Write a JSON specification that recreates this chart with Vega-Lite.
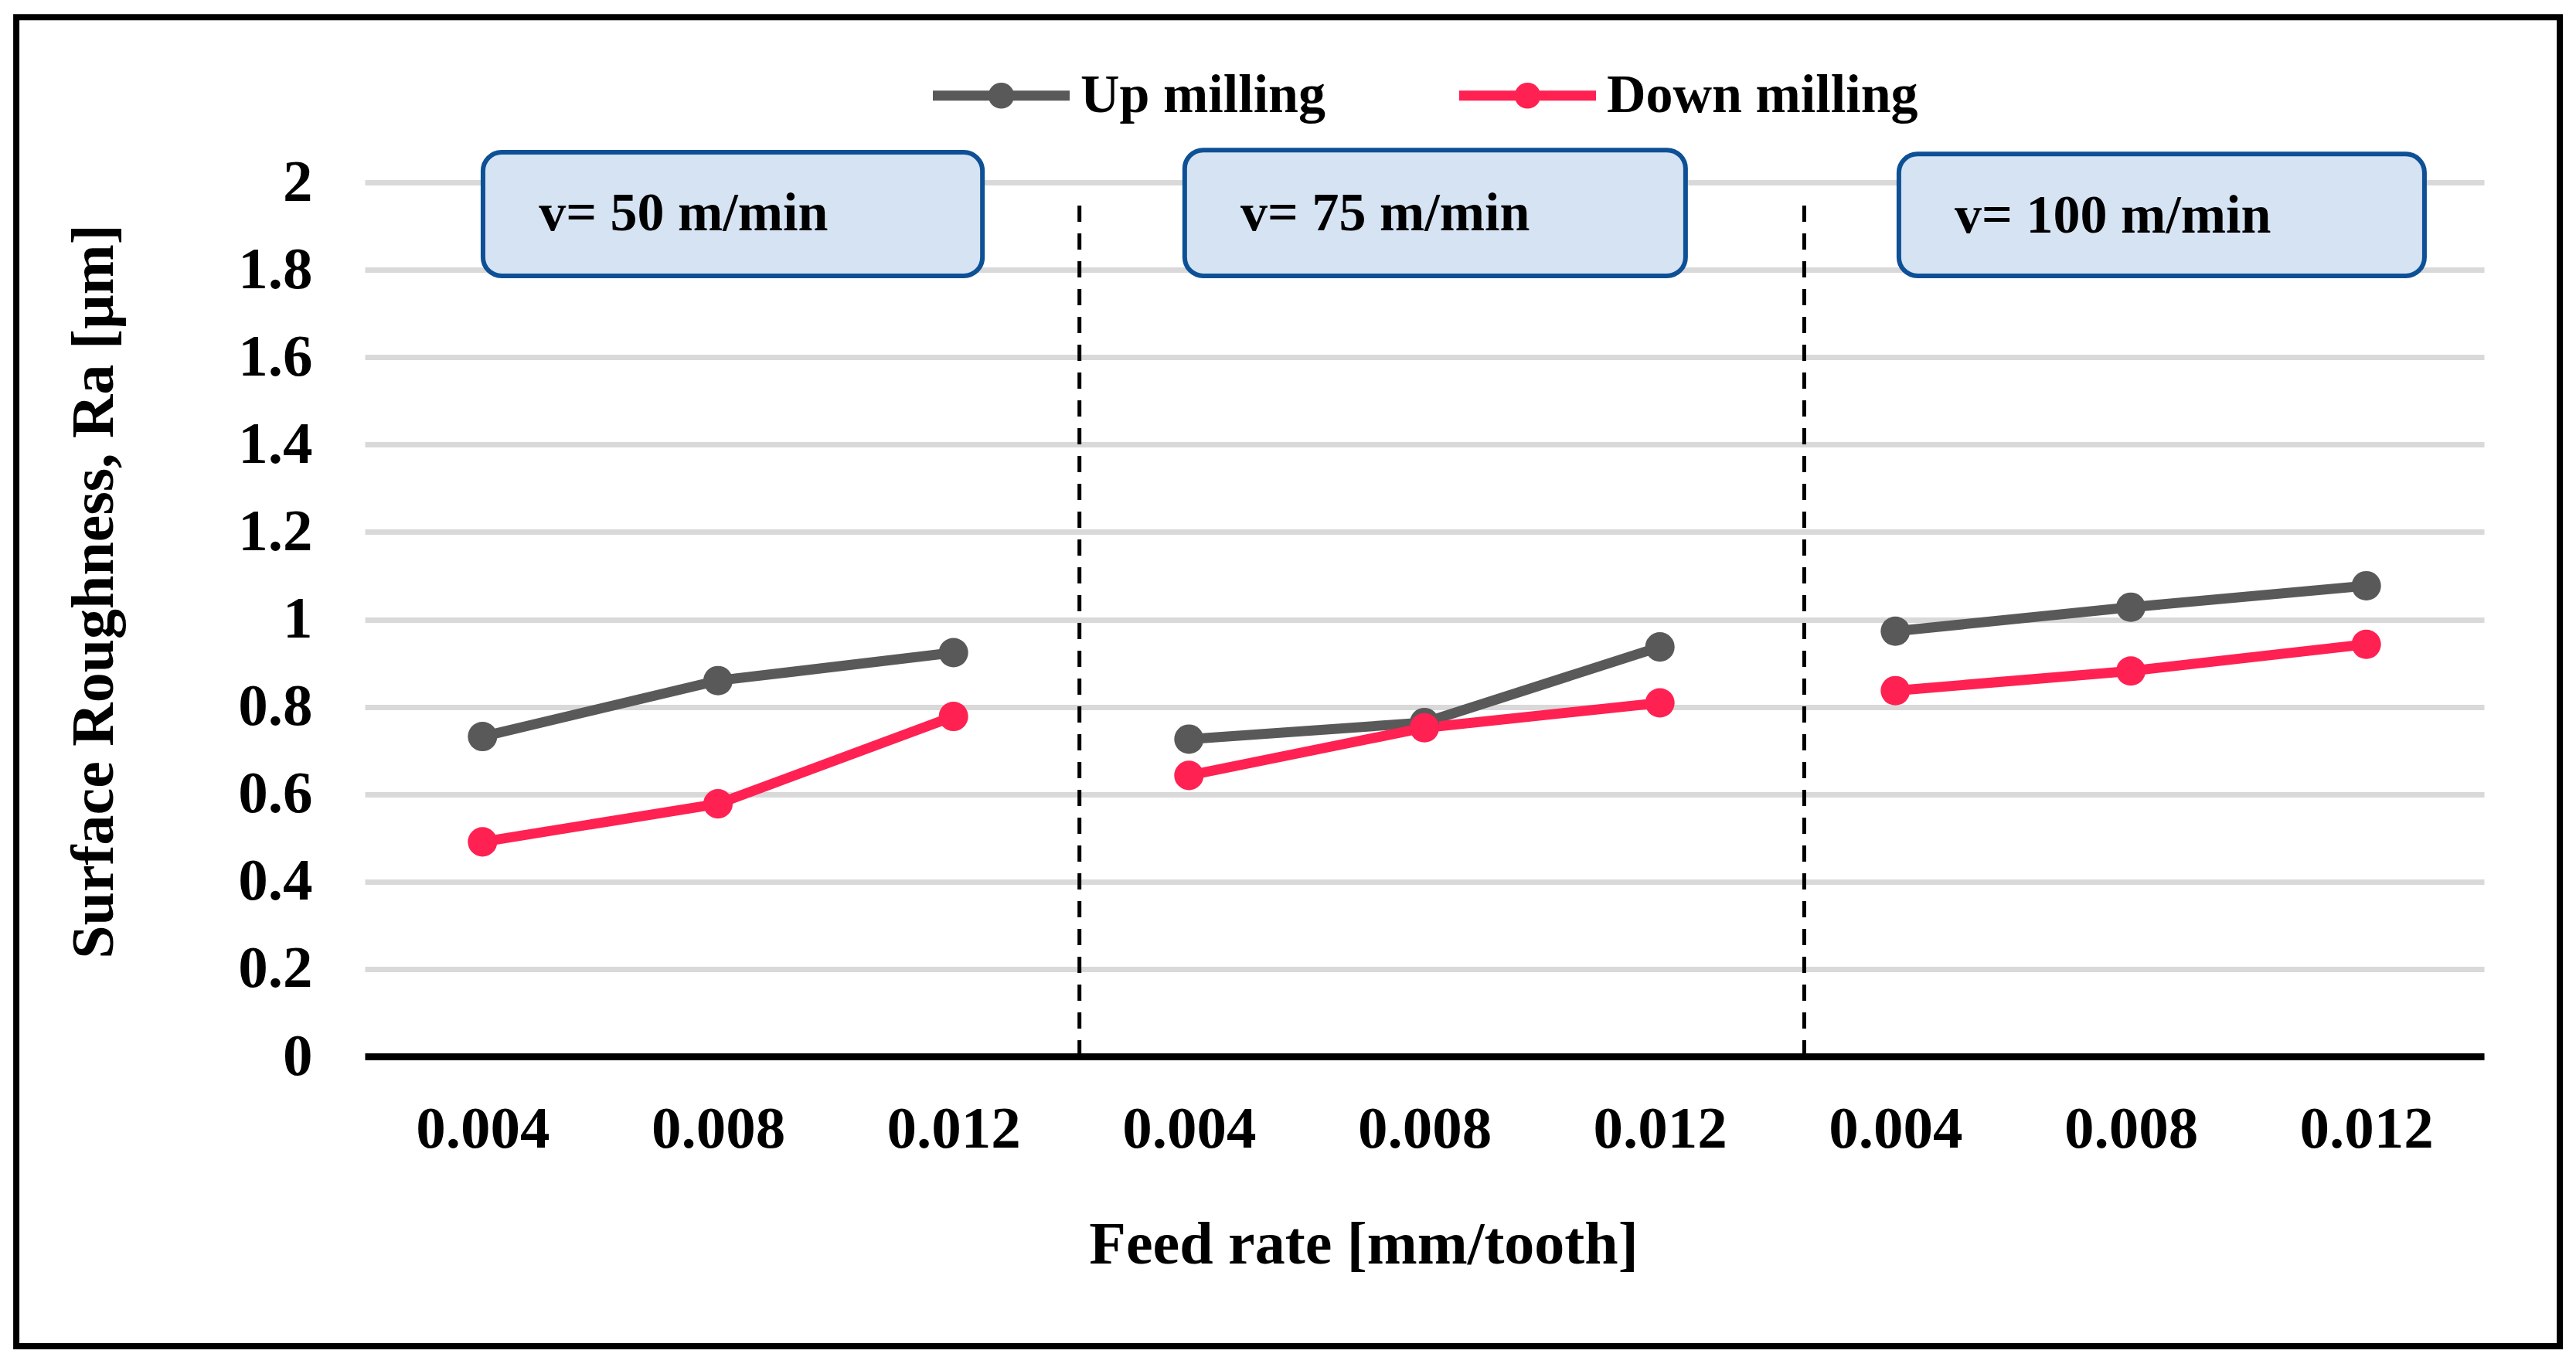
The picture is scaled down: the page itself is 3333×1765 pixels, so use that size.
{
  "$schema": "https://vega.github.io/schema/vega-lite/v6.json",
  "width": 2742,
  "height": 1131,
  "autosize": {"type": "none"},
  "padding": {"left": 472, "top": 236, "right": 119, "bottom": 398},
  "background": "white",
  "config": {
    "view": {"stroke": null},
    "font": "Liberation Serif",
    "axis": {"labelFont": "Liberation Serif", "titleFont": "Liberation Serif", "labelFontWeight": "bold", "titleFontWeight": "bold", "labelColor": "black", "titleColor": "black"},
    "legend": {"labelFont": "Liberation Serif", "labelFontWeight": "bold"}
  },
  "datasets": {
    "series": [
      {"slot": 0, "speed": "v= 50 m/min", "feed": 0.004, "mode": "Up milling", "ra": 0.732},
      {"slot": 1, "speed": "v= 50 m/min", "feed": 0.008, "mode": "Up milling", "ra": 0.86},
      {"slot": 2, "speed": "v= 50 m/min", "feed": 0.012, "mode": "Up milling", "ra": 0.924},
      {"slot": 3, "speed": "v= 75 m/min", "feed": 0.004, "mode": "Up milling", "ra": 0.726},
      {"slot": 4, "speed": "v= 75 m/min", "feed": 0.008, "mode": "Up milling", "ra": 0.764},
      {"slot": 5, "speed": "v= 75 m/min", "feed": 0.012, "mode": "Up milling", "ra": 0.937},
      {"slot": 6, "speed": "v= 100 m/min", "feed": 0.004, "mode": "Up milling", "ra": 0.973},
      {"slot": 7, "speed": "v= 100 m/min", "feed": 0.008, "mode": "Up milling", "ra": 1.028},
      {"slot": 8, "speed": "v= 100 m/min", "feed": 0.012, "mode": "Up milling", "ra": 1.077},
      {"slot": 0, "speed": "v= 50 m/min", "feed": 0.004, "mode": "Down milling", "ra": 0.491},
      {"slot": 1, "speed": "v= 50 m/min", "feed": 0.008, "mode": "Down milling", "ra": 0.578},
      {"slot": 2, "speed": "v= 50 m/min", "feed": 0.012, "mode": "Down milling", "ra": 0.778},
      {"slot": 3, "speed": "v= 75 m/min", "feed": 0.004, "mode": "Down milling", "ra": 0.643},
      {"slot": 4, "speed": "v= 75 m/min", "feed": 0.008, "mode": "Down milling", "ra": 0.752},
      {"slot": 5, "speed": "v= 75 m/min", "feed": 0.012, "mode": "Down milling", "ra": 0.809},
      {"slot": 6, "speed": "v= 100 m/min", "feed": 0.004, "mode": "Down milling", "ra": 0.837},
      {"slot": 7, "speed": "v= 100 m/min", "feed": 0.008, "mode": "Down milling", "ra": 0.882},
      {"slot": 8, "speed": "v= 100 m/min", "feed": 0.012, "mode": "Down milling", "ra": 0.943}
    ],
    "dividers": [
      {"x": 2.535, "y0": 0, "y1": 1.973},
      {"x": 5.613, "y0": 0, "y1": 1.957}
    ],
    "boxes": [
      {"label": "v= 50 m/min", "x0": 0.002, "x1": 2.123, "y0": 1.786, "y1": 2.069, "tx": 0.239, "ty": 1.927},
      {"label": "v= 75 m/min", "x0": 2.982, "x1": 5.109, "y0": 1.786, "y1": 2.074, "tx": 3.219, "ty": 1.927},
      {"label": "v= 100 m/min", "x0": 6.015, "x1": 8.247, "y0": 1.786, "y1": 2.065, "tx": 6.252, "ty": 1.922}
    ],
    "frame": [
      {"x0": -1.98, "x1": 8.822, "y0": -0.663, "y1": 2.378}
    ]
  },
  "resolve": {"axis": {"x": "independent", "y": "independent"}},
  "layer": [
    {
      "data": {"name": "series"},
      "mark": {"type": "line", "strokeWidth": 13},
      "encoding": {
        "x": {
          "field": "slot", "type": "quantitative",
          "scale": {"domain": [-0.5, 8.5], "nice": false, "zero": false},
          "axis": {
            "values": [0, 1, 2, 3, 4, 5, 6, 7, 8],
            "labelExpr": "datum.value % 3 == 0 ? '0.004' : (datum.value % 3 == 1 ? '0.008' : '0.012')",
            "title": "Feed rate [mm/tooth]",
            "labelFontSize": 77, "titleFontSize": 78,
            "ticks": false, "grid": false,
            "domainColor": "black", "domainWidth": 9,
            "labelPadding": 56, "titlePadding": 73, "titleX": 1292
          }
        },
        "y": {
          "field": "ra", "type": "quantitative",
          "scale": {"domain": [0, 2], "nice": false, "zero": false},
          "axis": {
            "values": [0, 0.2, 0.4, 0.6, 0.8, 1, 1.2, 1.4, 1.6, 1.8, 2],
            "format": "~g",
            "title": "Surface Roughness, Ra [µm]",
            "labelFontSize": 77, "titleFontSize": 78,
            "ticks": false, "domain": false,
            "grid": true, "gridColor": "#d9d9d9", "gridWidth": 7,
            "labelPadding": 68, "titlePadding": 146, "titleY": 529
          }
        },
        "color": {
          "field": "mode", "type": "nominal",
          "scale": {"domain": ["Up milling", "Down milling"], "range": ["#595959", "#FF2152"]},
          "legend": {
            "title": null, "orient": "none", "direction": "horizontal",
            "legendX": 735, "legendY": -201,
            "padding": 0,
            "labelFontSize": 70, "labelColor": "black", "labelOffset": 14, "labelLimit": 2000,
            "columnPadding": 172,
            "symbolType": "M-1,-0.073H1V0.073H-1Z M-0.19,0A0.19,0.19 0 1,1 0.19,0A0.19,0.19 0 1,1 -0.19,0Z",
            "symbolSize": 31329,
            "symbolStrokeWidth": 0,
            "encode": {"symbols": {"update": {"fill": {"scale": "color", "field": "value"}, "stroke": {"value": "transparent"}, "strokeWidth": {"value": 0}}}}
          }
        },
        "detail": {"field": "speed"}
      }
    },
    {
      "data": {"name": "series"},
      "mark": {"type": "point", "filled": true, "size": 1450, "opacity": 1},
      "encoding": {
        "x": {"field": "slot", "type": "quantitative", "axis": null},
        "y": {"field": "ra", "type": "quantitative", "axis": null},
        "color": {"field": "mode", "type": "nominal"}
      }
    },
    {
      "data": {"name": "frame"},
      "mark": {"type": "rect", "fill": "transparent", "stroke": "black", "strokeWidth": 8},
      "encoding": {
        "x": {"field": "x0", "type": "quantitative", "axis": null},
        "x2": {"field": "x1"},
        "y": {"field": "y0", "type": "quantitative", "axis": null},
        "y2": {"field": "y1"}
      }
    },
    {
      "data": {"name": "dividers"},
      "mark": {"type": "rule", "color": "black", "strokeWidth": 5, "strokeDash": [21, 15]},
      "encoding": {
        "x": {"field": "x", "type": "quantitative", "axis": null},
        "y": {"field": "y0", "type": "quantitative", "axis": null},
        "y2": {"field": "y1"}
      }
    },
    {
      "data": {"name": "boxes"},
      "mark": {"type": "rect", "fill": "#D6E3F3", "stroke": "#0D5096", "strokeWidth": 6, "cornerRadius": 24},
      "encoding": {
        "x": {"field": "x0", "type": "quantitative", "axis": null},
        "x2": {"field": "x1"},
        "y": {"field": "y0", "type": "quantitative", "axis": null},
        "y2": {"field": "y1"}
      }
    },
    {
      "data": {"name": "boxes"},
      "mark": {"type": "text", "align": "left", "baseline": "middle", "font": "Liberation Serif", "fontWeight": "bold", "fontSize": 70, "color": "black"},
      "encoding": {
        "x": {"field": "tx", "type": "quantitative", "axis": null},
        "y": {"field": "ty", "type": "quantitative", "axis": null},
        "text": {"field": "label"}
      }
    }
  ]
}
